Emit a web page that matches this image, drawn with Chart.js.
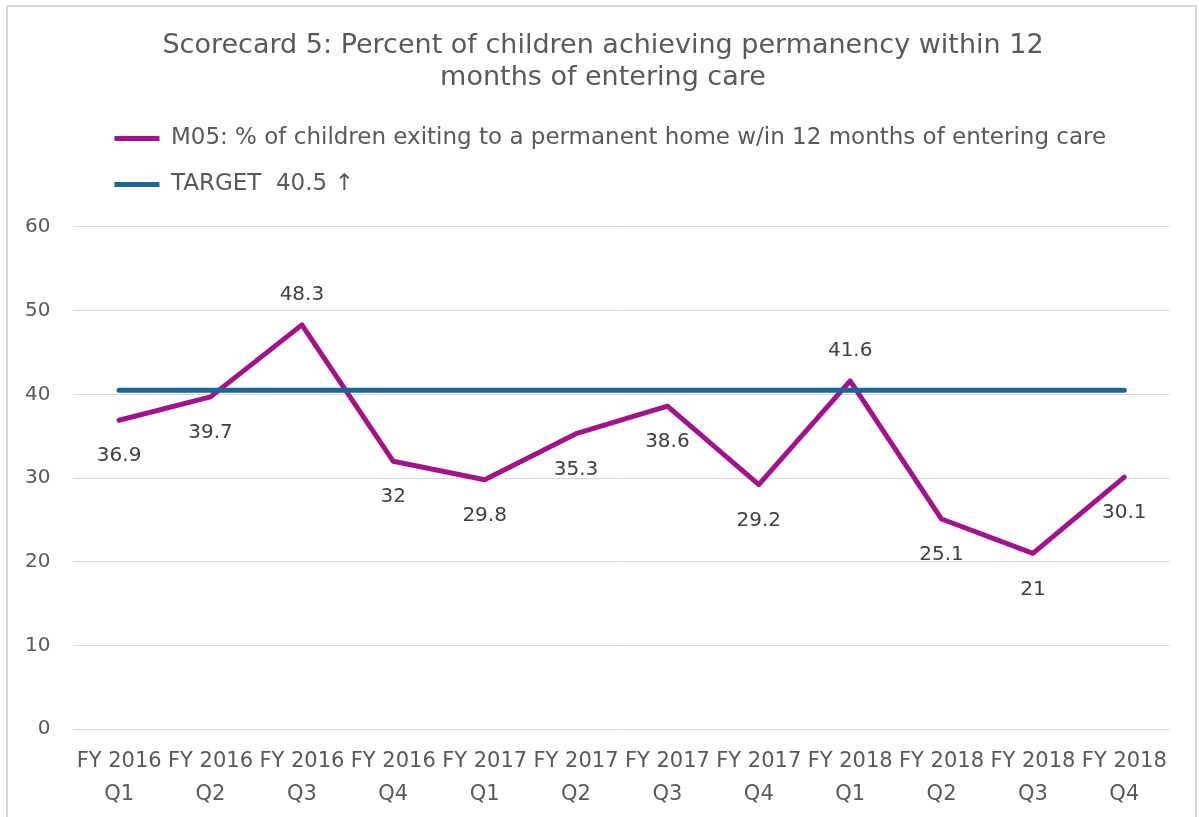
<!DOCTYPE html>
<html lang="en">
<head>
  <meta charset="UTF-8" />
  <title>Scorecard 5</title>
  <script src="https://cdn.jsdelivr.net/npm/chart.js"></script>
  <style>
    html, body { margin: 0; padding: 0; background: #fff; }
    #frame { position: absolute; left: 6px; top: 5px; width: 1187px; height: 830px; border: 2px solid #d9d9d9; }
    #wrap { position: absolute; left: 0; top: 0; width: 1199px; height: 817px; }
  </style>
</head>
<body>
  <div id="frame"></div>
  <div id="wrap"><canvas id="chart"></canvas></div>

  <script>
    const quarters = [
      ['FY 2016', 'Q1'], ['FY 2016', 'Q2'], ['FY 2016', 'Q3'], ['FY 2016', 'Q4'],
      ['FY 2017', 'Q1'], ['FY 2017', 'Q2'], ['FY 2017', 'Q3'], ['FY 2017', 'Q4'],
      ['FY 2018', 'Q1'], ['FY 2018', 'Q2'], ['FY 2018', 'Q3'], ['FY 2018', 'Q4']
    ];
    const m05Values = [36.9, 39.7, 48.3, 32, 29.8, 35.3, 38.6, 29.2, 41.6, 25.1, 21, 30.1];
    const targetValues = [40.5, 40.5, 40.5, 40.5, 40.5, 40.5, 40.5, 40.5, 40.5, 40.5, 40.5, 40.5];
    const m05Label = 'M05: % of children exiting to a permanent home w/in 12 months of entering care';
    const targetLabel = 'TARGET  40.5 \u2191';
    const titleLines = ['Scorecard 5: Percent of children achieving permanency within 12', 'months of entering care'];
    // labels drawn above the point instead of below
    const labelsAbove = [2, 8];

    const FONT = "'DejaVu Sans', sans-serif";
    const TEXT = '#595959';

    // value labels for the M05 line
    const valueLabels = {
      id: 'valueLabels',
      afterDatasetsDraw(chart) {
        const ctx = chart.ctx;
        const meta = chart.getDatasetMeta(0);
        ctx.save();
        ctx.font = '20px ' + FONT;
        ctx.fillStyle = '#404040';
        ctx.textAlign = 'center';
        ctx.textBaseline = 'middle';
        meta.data.forEach((pt, i) => {
          const dy = labelsAbove.includes(i) ? -30 : 36;
          ctx.fillText(String(m05Values[i]), pt.x, pt.y + dy);
        });
        ctx.restore();
      }
    };

    // nudge title + legend so they sit like Excel's (title centred on the page,
    // legend indented and closer to the title)
    const layoutNudge = {
      id: 'layoutNudge',
      afterLayout(chart) {
        const tb = chart.titleBlock;
        tb.left += 17; tb.right += 17;
        const lg = chart.legend;
        lg.left += 18; lg.right += 18;
        lg.top -= 21; lg.bottom -= 21;
      }
    };

    new Chart(document.getElementById('chart'), {
      type: 'line',
      data: {
        labels: quarters,
        datasets: [
          {
            label: m05Label,
            data: m05Values,
            borderColor: '#A3128C',
            backgroundColor: '#A3128C',
            borderWidth: 5,
            borderCapStyle: 'round',
            borderJoinStyle: 'round',
            pointRadius: 0,
            tension: 0,
            order: 1
          },
          {
            label: targetLabel,
            data: targetValues,
            borderColor: '#1B6596',
            backgroundColor: '#1B6596',
            borderWidth: 5,
            borderCapStyle: 'round',
            pointRadius: 0,
            tension: 0,
            order: 0
          }
        ]
      },
      options: {
        responsive: true,
        maintainAspectRatio: false,
        animation: false,
        layout: { padding: { top: 0, left: 2, right: 29, bottom: -10 } },
        plugins: {
          title: {
            display: true,
            text: titleLines,
            color: TEXT,
            font: { family: FONT, size: 27, weight: 'normal', lineHeight: 1.185 },
            padding: { top: 30, bottom: 31 }
          },
          legend: {
            position: 'top',
            align: 'start',
            fullSize: false,
            labels: {
              usePointStyle: true,
              pointStyle: 'line',
              pointStyleWidth: 45,
              padding: 23,
              color: TEXT,
              font: { family: FONT, size: 23 },
              sort: (a, b) => a.datasetIndex - b.datasetIndex
            }
          },
          tooltip: { enabled: false }
        },
        scales: {
          x: {
            offset: true,
            grid: { display: false, drawTicks: false },
            border: { display: false },
            ticks: {
              color: TEXT,
              font: { family: FONT, size: 21, lineHeight: 1.57 },
              padding: 16,
              maxRotation: 0,
              autoSkip: false
            }
          },
          y: {
            min: 0,
            max: 60,
            grid: { color: '#d9d9d9', lineWidth: 1, drawTicks: false },
            border: { display: false },
            ticks: {
              stepSize: 10,
              color: TEXT,
              font: { family: FONT, size: 20 },
              padding: 23
            }
          }
        }
      },
      plugins: [valueLabels, layoutNudge]
    });
  </script>
</body>
</html>
